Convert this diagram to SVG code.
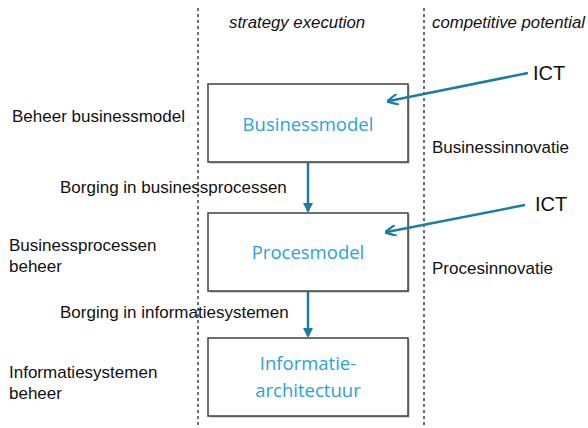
<svg xmlns="http://www.w3.org/2000/svg" width="588" height="428" viewBox="0 0 588 428">
  <style>
    .lbl { font-family: "Liberation Sans", Arial, sans-serif; font-size: 17px; fill: #111; }
    .hdr { font-family: "Liberation Sans", Arial, sans-serif; font-size: 16.8px; font-style: italic; fill: #111; }
    .ict { font-family: "Liberation Sans", Arial, sans-serif; font-size: 20px; fill: #111; }
    .box { fill: #fff; stroke: #404040; stroke-width: 1.5; }
    .shadow { fill: #b0b0b0; }
    .boxtxt { font-family: "Open Sans", "Liberation Sans", sans-serif; font-size: 18.5px; fill: #2aa2d8; text-anchor: middle; }
    .divider { stroke: #222; stroke-width: 1.3; stroke-dasharray: 3 3; fill: none; }
    .conn { stroke: #1a7ea3; stroke-width: 2.5; fill: none; marker-end: url(#arrow); }
  </style>
  <defs>
    <marker id="arrow" viewBox="0 0 10 10" refX="8" refY="5" markerWidth="4.5" markerHeight="4.5" orient="auto" markerUnits="strokeWidth">
      <path d="M0,0 L10,5 L0,10" fill="none" stroke="#1a7ea3" stroke-width="2"/>
    </marker>
    <marker id="arrowFill" viewBox="0 0 10 10" refX="8" refY="5" markerWidth="4" markerHeight="4" orient="auto" markerUnits="strokeWidth">
      <path d="M0,0 L10,5 L0,10 Z" fill="#1a7ea3"/>
    </marker>
  </defs>

  <rect width="588" height="428" fill="#fff"/>

  <!-- column dividers -->
  <line class="divider" x1="198" y1="8" x2="198" y2="428"/>
  <line class="divider" x1="424" y1="8" x2="424" y2="428"/>

  <!-- column headings -->
  <text class="hdr" x="229" y="28">strategy execution</text>
  <text class="hdr" x="432" y="28">competitive potential</text>

  <!-- level labels, left -->
  <text class="lbl" x="12" y="122">Beheer businessmodel</text>
  <text class="lbl" x="60" y="193">Borging in businessprocessen</text>
  <text class="lbl" x="9" y="251">Businessprocessen</text>
  <text class="lbl" x="9" y="272">beheer</text>
  <text class="lbl" x="60" y="318">Borging in informatiesystemen</text>
  <text class="lbl" x="9" y="378">Informatiesystemen</text>
  <text class="lbl" x="9" y="399">beheer</text>

  <!-- innovation labels, right -->
  <text class="lbl" x="432" y="153">Businessinnovatie</text>
  <text class="lbl" x="432" y="274">Procesinnovatie</text>

  <!-- model boxes -->
  <g id="businessmodel">
    <rect class="shadow" x="209.5" y="85.5" width="200" height="78"/>
    <rect class="box" x="208" y="84" width="200" height="78"/>
    <text class="boxtxt" x="308" y="131">Businessmodel</text>
  </g>
  <g id="procesmodel">
    <rect class="shadow" x="209.5" y="214.5" width="200" height="78"/>
    <rect class="box" x="208" y="213" width="200" height="78"/>
    <text class="boxtxt" x="308" y="259">Procesmodel</text>
  </g>
  <g id="informatiearchitectuur">
    <rect class="shadow" x="209.5" y="339.5" width="200" height="78"/>
    <rect class="box" x="208" y="338" width="200" height="78"/>
    <text class="boxtxt" x="308" y="370">Informatie-</text>
    <text class="boxtxt" x="308" y="397">architectuur</text>
  </g>

  <!-- ICT drivers -->
  <g id="ict1"><text class="ict" x="533" y="80">ICT</text></g>
  <g id="ict2"><text class="ict" x="535" y="211">ICT</text></g>

  <!-- connectors -->
  <g id="connectors">
    <line class="conn" x1="308" y1="163" x2="308" y2="211" style="marker-end:url(#arrowFill)"/>
    <line class="conn" x1="308" y1="292" x2="308" y2="336" style="marker-end:url(#arrowFill)"/>
    <line class="conn" x1="528" y1="73" x2="389" y2="101"/>
    <line class="conn" x1="525" y1="205" x2="387" y2="232"/>
  </g>
</svg>
